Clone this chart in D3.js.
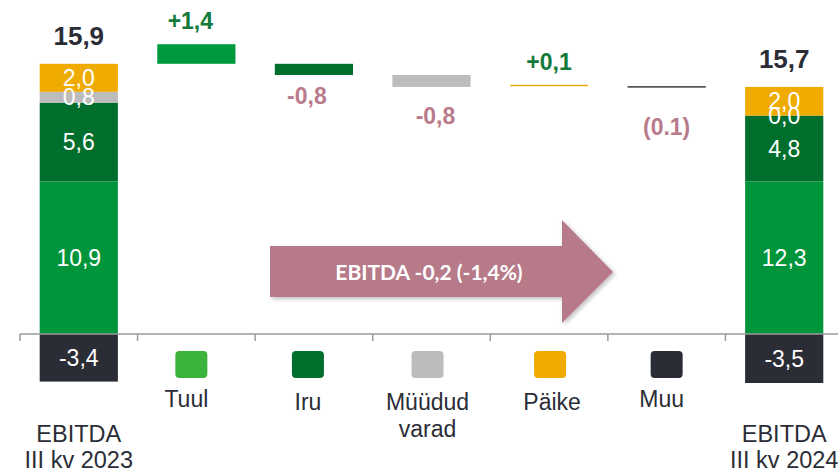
<!DOCTYPE html>
<html>
<head>
<meta charset="utf-8">
<script src="https://cdn.jsdelivr.net/npm/d3@7/dist/d3.min.js"></script>
<style>
  body { margin: 0; background: #fff; }
  svg { display: block; font-family: "Liberation Sans", Arial, sans-serif; }
</style>
</head>
<body>
<div id="chart"></div>
<script>
"use strict";

// categories along the x axis
var categories = ["start", "Tuul", "Iru", "Müüdud varad", "Päike", "Muu", "end"];
var legendNames = [null, ["Tuul"], ["Iru"], ["Müüdud", "varad"], ["Päike"], ["Muu"], null];

// stacked totals (bottom to top: Tuul, Iru, Müüdud varad, Päike), negative Muu
var startStack = [10.9, 5.6, 0.8, 2.0];
var startStackLabels = ["10,9", "5,6", "0,8", "2,0"];
var endStack = [10.9, 4.7, 0.0, 2.05];
var endStackLabels = ["12,3", "4,8", "0,0", "2,0"];
var startNeg = -3.4, endNeg = -3.5;
var startTotalLabel = "15,9", endTotalLabel = "15,7";

// bridge steps (from -> to), as drawn
var stepFrom = [19.3, 19.3, 18.5, 17.7, 17.7];
var stepTo = [20.7, 18.5, 17.65, 17.8, 17.6];
var stepLabels = ["+1,4", "-0,8", "-0,8", "+0,1", "(0.1)"];

var segColors = ["#00953a", "#006f2e", "#bcbcbc", "#f0ab00"];
var muuColor = "#2b2d36";
var legendColors = [null, "#3bb33b", "#006f2e", "#bcbcbc", "#f0ab00", "#2b2d36", null];
var stepColors = ["#009a3e", "#006f2e", "#bcbcbc", "#f0ab00", "#2b2d36"];
var posColor = "#137a3a", negColor = "#b97b8c", textColor = "#2b2d36";

var width = 838, height = 472;
var svg = d3.select("#chart").append("svg")
    .attr("width", width).attr("height", height);

var x = d3.scaleBand().domain(categories).range([20, 843]).padding(0);
var y = d3.scaleLinear().domain([0, 20]).range([334, 54]);
var barW = x.bandwidth() * 0.665;
function barX(c) { return x(c) + (x.bandwidth() - barW) / 2; }
function cx(c) { return x(c) + x.bandwidth() / 2; }

// shadow for the arrow
var defs = svg.append("defs");
var f = defs.append("filter").attr("id", "sh").attr("x", "-10%").attr("y", "-10%")
    .attr("width", "130%").attr("height", "140%");
f.append("feDropShadow").attr("dx", 2).attr("dy", 2).attr("stdDeviation", 2)
    .attr("flood-color", "#000").attr("flood-opacity", 0.25);

// stacked total bars
function drawStack(cat, vals, labels, neg, total) {
    var g = svg.append("g");
    var acc = 0;
    var segs = vals.map(function(v, i) {
        var s = { y0: acc, y1: acc + v, label: labels[i], color: segColors[i] };
        acc += v;
        return s;
    });
    g.selectAll("rect.seg").data(segs).enter().append("rect")
        .attr("class", "seg")
        .attr("x", barX(cat)).attr("width", barW)
        .attr("y", function(d) { return y(d.y1); })
        .attr("height", function(d) { return y(d.y0) - y(d.y1); })
        .attr("fill", function(d) { return d.color; });
    g.append("rect")
        .attr("x", barX(cat)).attr("width", barW)
        .attr("y", y(0)).attr("height", y(neg) - y(0))
        .attr("fill", muuColor);
    g.selectAll("text.seg").data(segs).enter().append("text")
        .attr("x", cx(cat))
        .attr("y", function(d) { return (y(d.y0) + y(d.y1)) / 2 + 8; })
        .attr("text-anchor", "middle")
        .attr("fill", "#fff").attr("font-size", 23)
        .text(function(d) { return d.label; });
    g.append("text")
        .attr("x", cx(cat)).attr("y", (y(0) + y(neg)) / 2 + 8)
        .attr("text-anchor", "middle").attr("fill", "#fff").attr("font-size", 23)
        .text(String(neg).replace(".", ","));
    g.append("text")
        .attr("x", cx(cat)).attr("y", y(acc) - 19)
        .attr("text-anchor", "middle").attr("fill", textColor)
        .attr("font-size", 26).attr("font-weight", "bold")
        .text(total);
}
drawStack("start", startStack, startStackLabels, startNeg, startTotalLabel);
drawStack("end", endStack, endStackLabels, endNeg, endTotalLabel);

// bridge steps
var steps = categories.slice(1, 6).map(function(c, i) {
    return { cat: c, from: stepFrom[i], to: stepTo[i], label: stepLabels[i], color: stepColors[i] };
});
svg.selectAll("rect.step").data(steps).enter().append("rect")
    .attr("class", "step")
    .attr("x", function(d) { return barX(d.cat); })
    .attr("width", barW)
    .attr("y", function(d) { return y(Math.max(d.from, d.to)); })
    .attr("height", function(d) { return Math.abs(y(d.from) - y(d.to)); })
    .attr("fill", function(d) { return d.color; });

var labelDy = [-15, 29, 37, -15, 47];
var labelDx = [-6, -7, 4, 0, 0];
svg.selectAll("text.step").data(steps).enter().append("text")
    .attr("class", "step")
    .attr("x", function(d, i) { return cx(d.cat) + labelDx[i]; })
    .attr("y", function(d, i) {
        return (labelDy[i] < 0 ? y(Math.max(d.from, d.to)) : y(Math.min(d.from, d.to))) + labelDy[i];
    })
    .attr("text-anchor", "middle")
    .attr("font-size", 23).attr("font-weight", "bold")
    .attr("fill", function(d) { return d.to > d.from ? posColor : negColor; })
    .text(function(d) { return d.label; });

// axis line with ticks at category boundaries
svg.append("line")
    .attr("x1", 20).attr("x2", width).attr("y1", y(0)).attr("y2", y(0))
    .attr("stroke", "#9a9a9a").attr("stroke-width", 1.5);
svg.selectAll("line.tick").data(categories).enter().append("line")
    .attr("class", "tick")
    .attr("x1", function(c) { return x(c); }).attr("x2", function(c) { return x(c); })
    .attr("y1", y(0)).attr("y2", y(0) + 7)
    .attr("stroke", "#9a9a9a").attr("stroke-width", 1.5);

// legend swatches under the bridge categories
var legendDx = [-5, -6, -4, 1, 0];
var legendTextDx = [-10, -6, -4, 3, -5];
categories.forEach(function(c, i) {
    if (!legendNames[i]) return;
    var lx = cx(c) + legendDx[i - 1];
    svg.append("rect")
        .attr("x", lx - 16).attr("y", 351).attr("width", 32).attr("height", 27)
        .attr("rx", 4).attr("fill", legendColors[i]);
    legendNames[i].forEach(function(t, j) {
        svg.append("text")
            .attr("x", cx(c) + legendTextDx[i - 1]).attr("y", (i === 1 || i === 5 ? 407 : 410) + j * 27)
            .attr("text-anchor", "middle").attr("font-size", 23)
            .attr("fill", textColor).text(t);
    });
});

// period labels
[["start", "III kv 2023"], ["end", "III kv 2024"]].forEach(function(p) {
    svg.append("text").attr("x", cx(p[0])).attr("y", 442)
        .attr("text-anchor", "middle").attr("font-size", 23.5).attr("fill", textColor)
        .text("EBITDA");
    svg.append("text").attr("x", cx(p[0])).attr("y", 468)
        .attr("text-anchor", "middle").attr("font-size", 23.5).attr("fill", textColor)
        .text(p[1]);
});

// change arrow
var ax0 = 270, ax1 = 562, tip = 613;
var ay0 = 246, ay1 = 297, hy0 = 220, hy1 = 323, my = 272;
svg.append("path")
    .attr("d", "M" + ax0 + "," + ay0 + "L" + ax1 + "," + ay0 + "L" + ax1 + "," + hy0 +
        "L" + tip + "," + my + "L" + ax1 + "," + hy1 + "L" + ax1 + "," + ay1 +
        "L" + ax0 + "," + ay1 + "Z")
    .attr("fill", "#b67a89").attr("filter", "url(#sh)");
svg.append("text")
    .attr("x", 429).attr("y", 280)
    .attr("text-anchor", "middle").attr("fill", "#fff")
    .attr("font-family", "Lato, 'Open Sans', sans-serif")
    .attr("font-size", 21).attr("font-weight", "bold")
    .text("EBITDA -0,2 (-1,4%)");
</script>
</body>
</html>
